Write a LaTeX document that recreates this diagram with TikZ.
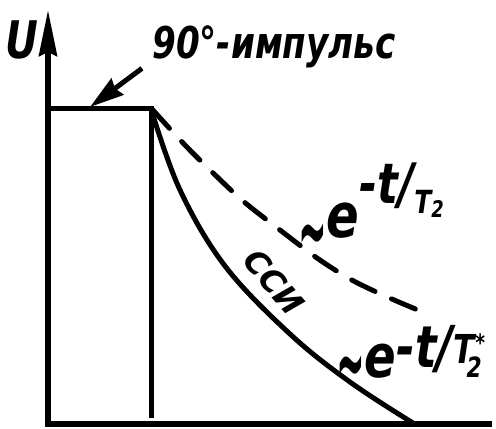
\documentclass[tikz,border=0pt]{standalone}
\usepackage{fontspec}
\setmainfont{DejaVu Sans}[BoldFont={DejaVu Sans Bold},ItalicFont={DejaVu Sans Oblique},BoldItalicFont={DejaVu Sans Bold Oblique}]
\usepackage{graphicx}
\usepackage{xcolor}
\usetikzlibrary{arrows.meta,positioning}
\definecolor{ink}{gray}{0.0}
\newcommand{\narrow}[1]{\scalebox{0.78}[1]{#1}}
\newcommand{\fs}[1]{\fontsize{#1}{#1}\selectfont}
\newcommand{\wave}{\scalebox{1.1}[2.4]{\fs{40}\symbol{"223C}}}
\tikzset{
  hand/.style={font=\bfseries\itshape, text=ink, inner sep=0pt},
  axis/.style={draw=ink, line width=5.5bp, line join=miter},
  pulse/.style={draw=ink, line width=5bp},
  pointer/.style={draw=ink, line width=5bp, -{Stealth[length=34bp,width=20bp,inset=3bp]}},
  fid/.style={draw=ink, line width=5bp, line cap=round},
  echo/.style={draw=ink, line width=5bp, line cap=round, dash pattern=on 26bp off 18bp},
}
\begin{document}
\begin{tikzpicture}[x=1bp, y=-1bp]
  \useasboundingbox (0,0) rectangle (496,428);
  % axes
  \coordinate (o) at (48,424);
  \coordinate (ytop) at (48,10);
  \coordinate (xend) at (492,424);
  \draw[axis, {Stealth[length=46bp,width=18bp,inset=4bp]}-] (ytop) -- (o) -- (xend);
  \node[hand, font=\fs{52}\bfseries\itshape] (U) at (22,40) {\narrow{U}};
  % pulse
  \coordinate (ptop) at (48,108);
  \coordinate (corner) at (151,108);
  \coordinate (pfoot) at (151,418);
  \draw[pulse] (ptop) -- (corner) -- (pfoot);
  \node[hand, font=\fs{44}\bfseries\itshape, anchor=west] (imp) at (152,47) {\narrow{90°-импульс}};
  \coordinate (hit) at (90,107);
  \draw[pointer] ([xshift=-10bp]imp.south west) -- (hit);
  % decay curves
  \draw[echo] plot[smooth] coordinates {(152,109) (183,143) (210,170) (243,201) (280,230) (317,258) (350,279) (385,296) (425,313)};
  \draw[fid] plot[smooth, tension=0.6] coordinates {(151,109) (180,190) (225,266) (290,334) (350,382) (413,423)};
  \node[hand, font=\fs{32}\bfseries\itshape, rotate=-49] (ssi) at (274,282) {ССИ};
  \node[hand, anchor=base west] (t2) at (298,237) {\narrow{\raisebox{-26bp}{\wave}\fs{62}e\raisebox{34bp}{\fs{56}-t/}\raisebox{24bp}{\fs{32}T}\raisebox{20bp}{\fs{23}2}}};
  \node[hand, anchor=base west] (t2s) at (336,377) {\narrow{\raisebox{-18bp}{\wave}\fs{60}e\raisebox{10bp}{\fs{58}-t/}\raisebox{14bp}{\fs{40}T}\kern-10bp\raisebox{0bp}{\fs{28}2}\kern-8bp\raisebox{26bp}{\fs{24}*}}};
\end{tikzpicture}
\end{document}
